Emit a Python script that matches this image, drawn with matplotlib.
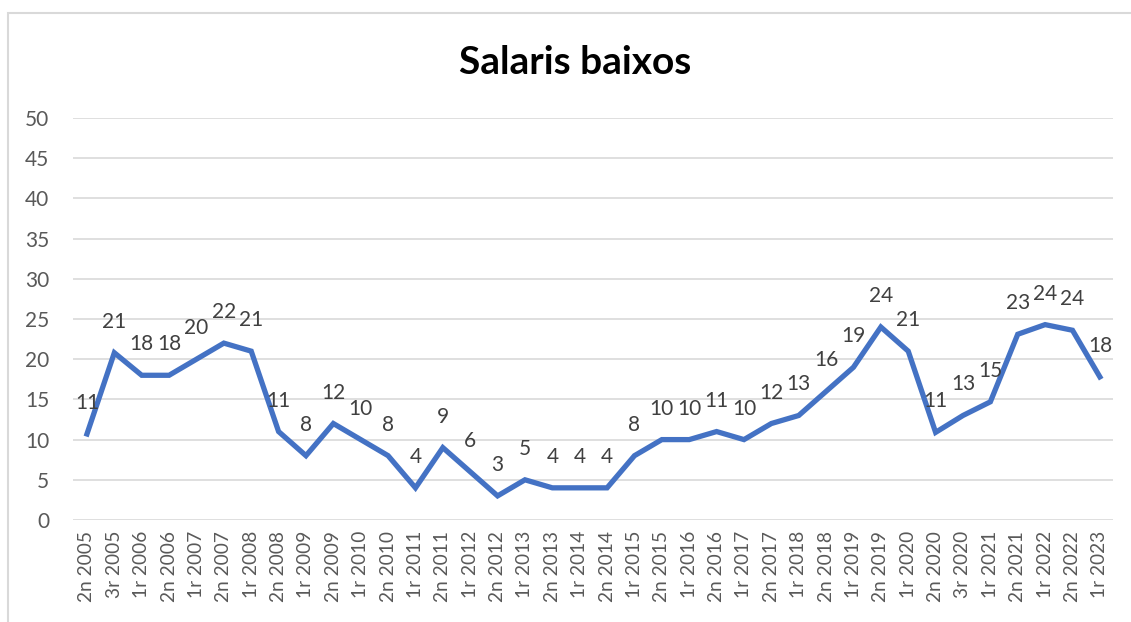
import matplotlib.pyplot as plt
from matplotlib.patches import Rectangle

plt.rcParams['font.family'] = ['Lato', 'DejaVu Sans']

# periods (semestre / trimestre) shown on the x axis
periods = ["2n 2005", "3r 2005", "1r 2006", "2n 2006", "1r 2007", "2n 2007",
           "1r 2008", "2n 2008", "1r 2009", "2n 2009", "1r 2010", "2n 2010",
           "1r 2011", "2n 2011", "1r 2012", "2n 2012", "1r 2013", "2n 2013",
           "1r 2014", "2n 2014", "1r 2015", "2n 2015", "1r 2016", "2n 2016",
           "1r 2017", "2n 2017", "1r 2018", "2n 2018", "1r 2019", "2n 2019",
           "1r 2020", "2n 2020", "3r 2020", "1r 2021", "2n 2021", "1r 2022",
           "2n 2022", "1r 2023"]
values = [10.7, 20.8, 18, 18, 20, 22, 21, 11, 8, 12, 10, 8, 4, 9, 6, 3, 5, 4,
          4, 4, 8, 10, 10, 11, 10, 12, 13, 16, 19, 24, 21, 10.9, 13, 14.7, 23.1,
          24.3, 23.6, 17.8]
yticks = [0, 5, 10, 15, 20, 25, 30, 35, 40, 45, 50]

W, H = 1131, 622
fig = plt.figure(figsize=(W / 100, H / 100), dpi=100)
ax = fig.add_axes([73 / W, 1 - 520 / H, (1113 - 73) / W, (520 - 118) / H])

# light frame of the chart area
fig.patches.append(Rectangle((8 / W, -0.1), 1.2, 1.1 - 13 / H, transform=fig.transFigure,
                             fill=False, edgecolor="#D9D9D9", linewidth=1.5))

x = list(range(len(periods)))
ax.plot(x, values, color="#4472C4", linewidth=3.8, solid_joinstyle="miter", zorder=3)

for xi, v in zip(x, values):
    ax.annotate(f"{v:.0f}", (xi, v), xytext=(0, 31), textcoords="offset pixels",
                ha="center", va="center", fontsize=15, color="#404040", zorder=4)

ax.set_xlim(-0.51, len(periods) - 0.52)
ax.set_ylim(0, 50)
ax.set_yticks(yticks)
ax.set_xticks(x)
ax.set_xticklabels(periods, rotation=90, fontsize=13.8, color="#595959")
ax.tick_params(axis="y", labelsize=15, labelcolor="#595959", length=0, pad=17)
ax.tick_params(axis="x", length=0, pad=8)
ax.grid(axis="y", color="#D9D9D9", linewidth=1.2)
ax.set_axisbelow(True)
for s in ax.spines.values():
    s.set_visible(False)

fig.text(575 / W, 1 - 62 / H, "Salaris baixos", ha="center", va="center",
         fontsize=28, fontweight="bold", color="black")

fig.savefig("out.png", dpi=100)
